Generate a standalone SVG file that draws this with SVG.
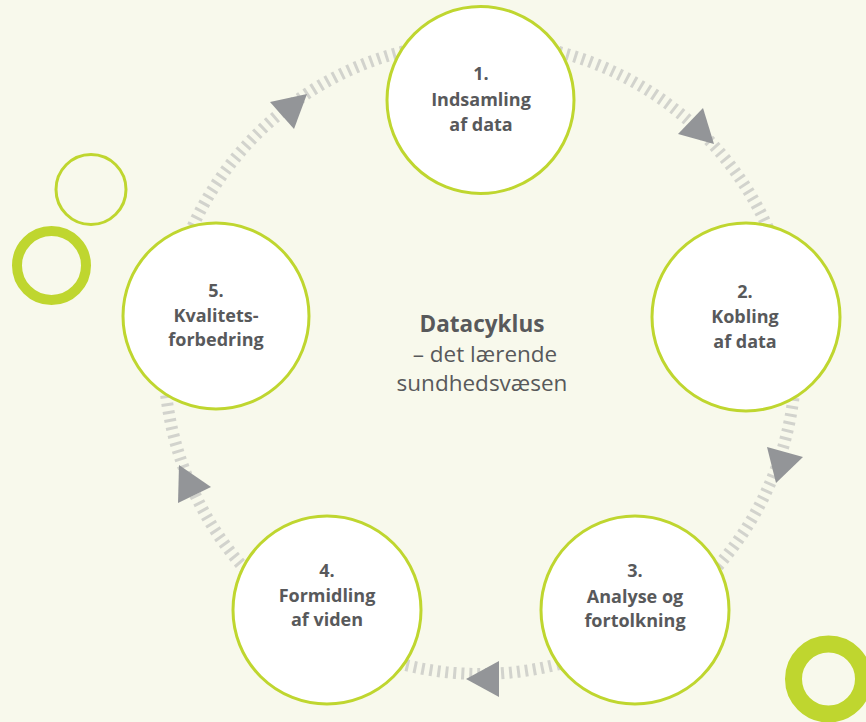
<svg xmlns="http://www.w3.org/2000/svg" width="866" height="722" viewBox="0 0 866 722">
  <style>
    .node circle { fill: #ffffff; stroke: #bfd62f; stroke-width: 3; }
    .lbl { font-family: "Open Sans", "Liberation Sans", sans-serif; font-weight: bold; font-size: 18px; fill: #58595b; text-anchor: middle; }
    .title { font-family: "Open Sans", "Liberation Sans", sans-serif; font-size: 22.5px; fill: #58595b; text-anchor: middle; }
    .arrow { fill: #939598; }
    .deco { fill: none; stroke: #bfd62f; }
  </style>
  <rect x="0" y="0" width="866" height="722" fill="#f8f9ec"/>

  <g id="decorations">
    <circle class="deco" cx="91" cy="189.5" r="35" stroke-width="3"/>
    <circle class="deco" cx="51.5" cy="265.5" r="34.5" stroke-width="10"/>
    <circle class="deco" cx="828.5" cy="679" r="35" stroke-width="17"/>
  </g>

  <g id="connectors">
    <circle cx="480" cy="358" r="316" fill="none" stroke="#d2d3cd" stroke-width="12" stroke-dasharray="3 5"/>
    <polygon class="arrow" points="703,108 678,134 714,144"/>
    <polygon class="arrow" points="767,447 803,457 776,483"/>
    <polygon class="arrow" points="466,679 499,661 499,697"/>
    <polygon class="arrow" points="179,465 211,487 178,503"/>
    <polygon class="arrow" points="270,102 307,94 294,129"/>
  </g>

  <g id="node1" class="node">
    <circle cx="480.5" cy="100" r="93.5"/>
    <text class="lbl" x="481" y="80">1.</text>
    <text class="lbl" x="481" y="106">Indsamling</text>
    <text class="lbl" x="481" y="131">af data</text>
  </g>
  <g id="node2" class="node">
    <circle cx="746" cy="317" r="94"/>
    <text class="lbl" x="745" y="298">2.</text>
    <text class="lbl" x="745" y="323">Kobling</text>
    <text class="lbl" x="745" y="348">af data</text>
  </g>
  <g id="node3" class="node">
    <circle cx="635" cy="610" r="94"/>
    <text class="lbl" x="635" y="577">3.</text>
    <text class="lbl" x="635" y="603">Analyse og</text>
    <text class="lbl" x="635" y="627">fortolkning</text>
  </g>
  <g id="node4" class="node">
    <circle cx="327" cy="610" r="94"/>
    <text class="lbl" x="327" y="577">4.</text>
    <text class="lbl" x="327" y="602">Formidling</text>
    <text class="lbl" x="327" y="626">af viden</text>
  </g>
  <g id="node5" class="node">
    <circle cx="216" cy="316" r="93"/>
    <text class="lbl" x="216" y="297">5.</text>
    <text class="lbl" x="216" y="322">Kvalitets-</text>
    <text class="lbl" x="216" y="346">forbedring</text>
  </g>

  <g id="center-title">
    <text class="title" x="482" y="332" font-weight="bold" font-size="23.5">Datacyklus</text>
    <text class="title" x="485" y="362">– det lærende</text>
    <text class="title" x="482" y="391">sundhedsvæsen</text>
  </g>
</svg>
